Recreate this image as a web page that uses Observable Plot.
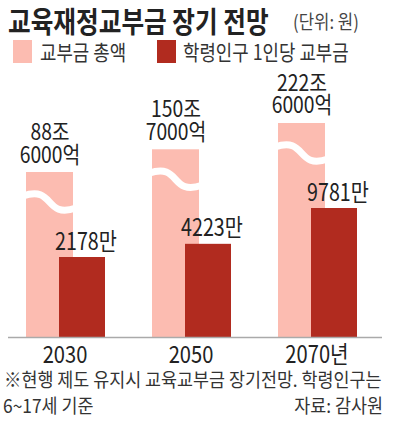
<!DOCTYPE html>
<html><head><meta charset="utf-8">
<script src="https://cdn.jsdelivr.net/npm/d3@7"></script>
<script src="https://cdn.jsdelivr.net/npm/@observablehq/plot@0.6"></script>
<style>
body{margin:0;background:#fff;font-family:"Noto Sans CJK KR","Noto Sans",sans-serif;}
#wrap{position:relative;width:395px;height:425px;overflow:hidden;background:#fff;}
.t{position:absolute;white-space:nowrap;line-height:1;transform-origin:left top;color:#333;}
.title{left:8px;top:6px;font-size:29px;font-weight:700;color:#222;transform:scaleX(0.85);}
.unit{left:293px;top:11px;font-size:19px;color:#444;transform:scaleX(0.88);}
.sw{position:absolute;top:40px;width:19px;height:23px;}
.leg{top:41px;font-size:21px;transform:scaleX(0.85);}
.note{font-size:19px;transform:scaleX(0.915);}
.src{right:12px;transform-origin:right top;}
#chart svg{position:absolute;left:0;top:68px;}
</style></head>
<body><div id="wrap">
<div class="t title">교육재정교부금 장기 전망</div>
<div class="t unit">(단위: 원)</div>
<div id="legend"></div>
<div id="chart"></div>
<div class="t note" style="left:4px;top:369px;">※현행 제도 유지시 교육교부금 장기전망. 학령인구는</div>
<div class="t note" style="left:3px;top:395px;">6~17세 기준</div>
<div class="t note src" style="top:395px;">자료: 감사원</div>
</div>
<script>
const years = ["2030", "2050", "2070"];
const yearSuffix = ["", "", "년"];
const totalJo = [88.6, 150.7, 222.6];       // 교부금 총액 (조 원)
const perStudentMan = [2178, 4223, 9781];   // 학령인구 1인당 교부금 (만 원)
const seriesNames = ["교부금 총액", "학령인구 1인당 교부금"];
const seriesColors = ["#fcbcb1", "#b12b1f"];

// broken (cut) value axes: bars start from these domain minima
const totalDomain = [-362.6, 373];
const perDomain = [-10234, 31504];

const rows = years.map((year, i) => ({year, suffix: yearSuffix[i], total: totalJo[i], per: perStudentMan[i], base: totalDomain[0]}));

function fmtTotal(v) {
  const jo = Math.floor(v);
  const eok = Math.round((v - jo) * 10000);
  return jo + "조\n" + eok + "억";
}

// legend
const legend = document.getElementById("legend");
const legX = [[13, 40], [157, 183]];
seriesNames.forEach((name, i) => {
  const sw = document.createElement("div");
  sw.className = "sw"; sw.style.left = legX[i][0] + "px"; sw.style.background = seriesColors[i];
  legend.appendChild(sw);
  const tx = document.createElement("div");
  tx.className = "t leg"; tx.style.left = legX[i][1] + "px"; tx.textContent = name;
  legend.appendChild(tx);
});

const common = {
  width: 395, height: 300, marginTop: 0, marginBottom: 31, marginLeft: 8, marginRight: 13,
  x: {domain: years, range: [-0.3, 382.3], paddingInner: 0.3755, paddingOuter: 0.2, axis: null},
  style: {fontFamily: '"Noto Sans CJK KR", sans-serif', background: "transparent", overflow: "visible", color: "#222"}
};

function waves(index, scales) {
  const g = d3.create("svg:g");
  const sx = scales.x;
  const bw = typeof sx.bandwidth === "function" ? sx.bandwidth() : (sx.bandwidth || 79);
  const w = bw - 32;
  rows.forEach(d => {
    const x0 = sx(d.year);
    const c = scales.y(d.total) + 30;
    g.append("path")
      .attr("d", `M${x0 - 3},${c - 6} C${x0 + w * 0.62},${c - 17} ${x0 + w * 0.38},${c + 17} ${x0 + w + 3},${c + 6}`)
      .attr("fill", "none").attr("stroke", "#fff").attr("stroke-width", 7);
  });
  return g.node();
}

const plotA = Plot.plot({
  ...common,
  y: {domain: totalDomain, axis: null},
  marks: [
    Plot.barY(rows, {x: "year", y1: "base", y2: "total", fill: seriesColors[0], insetRight: 32}),
    waves,
    Plot.text(rows, {x: "year", y: "total", text: d => fmtTotal(d.total), dx: -16, dy: -10,
      lineAnchor: "bottom", lineHeight: 1.0, fontSize: 23, fill: "#222"}),
    // category (year) labels under the baseline
    Plot.text(rows, {x: "year", y: "base", text: d => d.year + d.suffix, dx: -1, dy: 8,
      lineAnchor: "top", fontSize: 24, fill: "#222"})
  ]
});

const plotB = Plot.plot({
  ...common,
  y: {domain: perDomain, axis: null},
  marks: [
    Plot.barY(rows, {x: "year", y1: perDomain[0], y2: "per", fill: seriesColors[1], insetLeft: 33}),
    Plot.text(rows, {x: "year", y: "per", text: d => d.per + "만", dx: 20, dy: -8,
      lineAnchor: "bottom", fontSize: 24, fill: "#222"}),
    Plot.ruleY([perDomain[0]], {stroke: "#aaa", strokeWidth: 1.5})
  ]
});

// condensed lettering like the newspaper typeface: horizontal squeeze about each label's anchor
function condense(svg, s) {
  d3.select(svg).selectAll("text").each(function() {
    const t = this.getAttribute("transform") || "";
    this.setAttribute("transform", `${t} scale(${s},1)`);
  });
}
condense(plotA, 0.84);
condense(plotB, 0.82);

document.getElementById("chart").append(plotA, plotB);
</script>
</body></html>
